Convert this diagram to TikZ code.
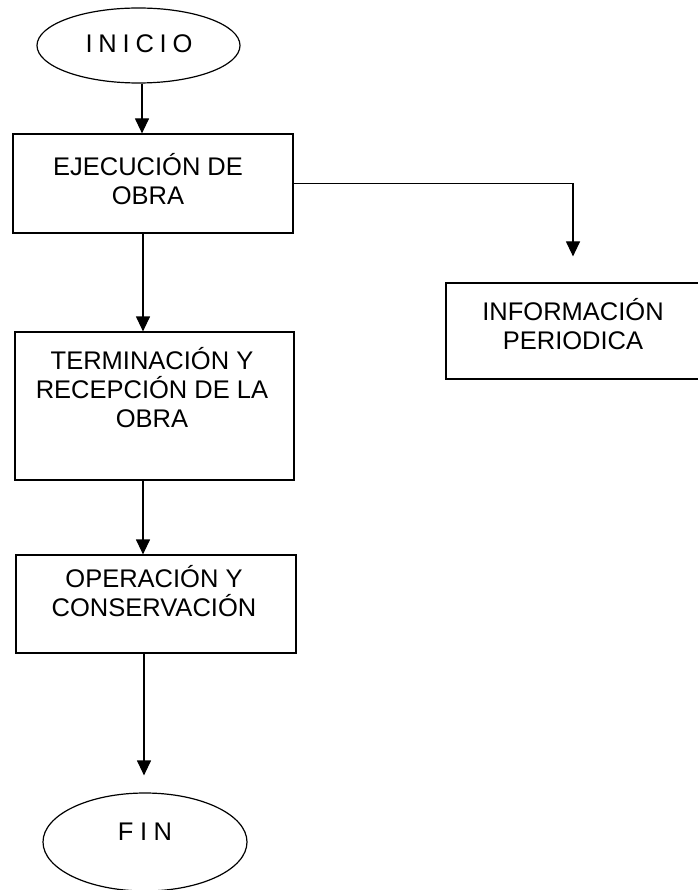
\documentclass[tikz,border=0pt]{standalone}
\usepackage{fontspec}
\setmainfont{Liberation Sans}
\usetikzlibrary{arrows.meta,shapes.geometric,calc}
\begin{document}
\begin{tikzpicture}[x=1pt,y=-1pt,
  line width=1.2pt,
  box/.style={draw, rectangle, inner sep=0pt},
  term/.style={draw, ellipse, inner sep=0pt},
  lbl/.style={align=center, font=\fontsize{25.5}{29}\selectfont, inner sep=0pt},
  arr/.style={-{Triangle[width=14pt,length=15pt]}}]
\useasboundingbox (0,0) rectangle (697,890);
% shapes
\node[term, minimum width=203pt, minimum height=75pt] (ini) at (138.5,45.5) {};
\node[box, minimum width=280pt, minimum height=99pt] (b1) at (153,183.5) {};
\node[box, minimum width=279pt, minimum height=148pt] (b2) at (154.5,406) {};
\node[box, minimum width=280pt, minimum height=98pt] (b3) at (156,604) {};
\node[box, minimum width=256pt, minimum height=96pt] (info) at (574,331) {};
\node[term, minimum width=204pt, minimum height=98pt] (fin) at (145,842) {};
% texts
\node[lbl] (tini) at (139,44) {I\hspace{5.8pt}N\hspace{5.8pt}I\hspace{5.8pt}C\hspace{5.8pt}I\hspace{5.8pt}O};
\node[lbl] (t1) at (148,179) {EJECUCIÓN DE\\OBRA};
\node[lbl] (t2) at (152,388) {TERMINACIÓN Y\\RECEPCIÓN DE LA\\OBRA};
\node[lbl] (t3) at (154,591) {OPERACIÓN Y\\CONSERVACIÓN};
\node[lbl] (tinfo) at (573,324) {INFORMACIÓN\\PERIODICA};
\node[lbl] (tfin) at (145,832) {F\hspace{6.5pt}I\hspace{6.5pt}N};
% connectors
\coordinate (c1) at ([xshift=3.5pt]ini.south);
\draw[arr] (c1) -- (c1 |- b1.north);
\coordinate (c2) at ([xshift=-10pt]b1.south);
\draw[arr] (c2) -- (c2 |- b2.north);
\coordinate (c3) at ([xshift=-11.5pt]b2.south);
\draw[arr] (c3) -- (c3 |- b3.north);
\coordinate (c4) at ([xshift=-12pt]b3.south);
\coordinate (c5) at ([yshift=17pt]fin.north);
\draw[arr] (c4) -- (c4 |- c5);
\coordinate (c6) at ([yshift=26pt]info.north -| 573,0);
\draw[arr] (b1.east) -| (c6);
\end{tikzpicture}
\end{document}
